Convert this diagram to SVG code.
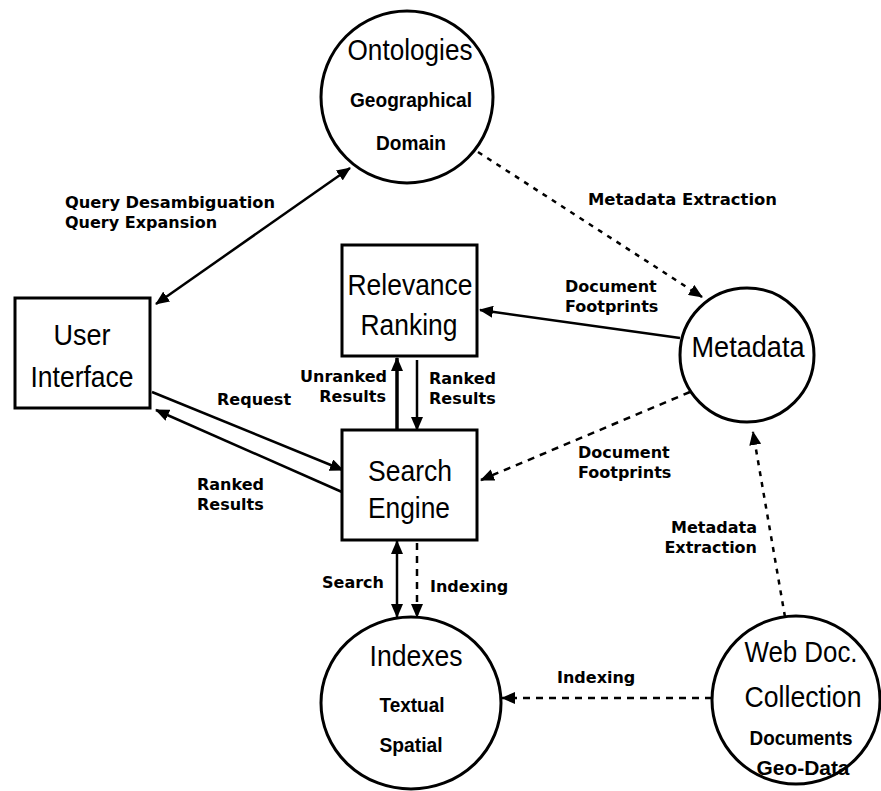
<svg xmlns="http://www.w3.org/2000/svg" width="881" height="791" viewBox="0 0 881 791">
<style>
.shape{fill:#fff;stroke:#000;stroke-width:3}
.nt{font-family:"Liberation Sans",Arial,sans-serif;font-size:29px;fill:#000;text-anchor:middle}
.ns{font-family:"Liberation Sans",Arial,sans-serif;font-size:21px;font-weight:bold;fill:#000;text-anchor:middle}
.lb{font-family:"DejaVu Sans",Verdana,sans-serif;font-size:16px;font-weight:bold;fill:#000}
.c{fill:none;stroke:#000;stroke-width:2.5}
.dot{stroke-dasharray:5 6}
.dash{stroke-dasharray:7 6}
</style>
<defs>
<marker id="ah" markerUnits="userSpaceOnUse" markerWidth="14" markerHeight="12" refX="13" refY="6" orient="auto-start-reverse">
<path d="M0,0 L14,6 L0,12 Z" fill="#000"/>
</marker>
</defs>
<g id="connectors">
<line class="c" x1="350" y1="168" x2="156" y2="304" marker-start="url(#ah)" marker-end="url(#ah)"/>
<line class="c dot" x1="478" y1="152" x2="702" y2="297" marker-end="url(#ah)"/>
<line class="c" x1="680" y1="338" x2="480" y2="310" marker-end="url(#ah)"/>
<line class="c" style="stroke-width:3.5" x1="397" y1="430" x2="397" y2="358" marker-end="url(#ah)"/>
<line class="c" x1="417" y1="360" x2="417" y2="430" marker-end="url(#ah)"/>
<line class="c" x1="152" y1="392" x2="343" y2="470" marker-end="url(#ah)"/>
<line class="c" x1="342" y1="492" x2="156" y2="410" marker-end="url(#ah)"/>
<line class="c dash" x1="690" y1="392" x2="481" y2="480" marker-end="url(#ah)"/>
<line class="c dot" x1="785" y1="617" x2="753" y2="432" marker-end="url(#ah)"/>
<line class="c" x1="397" y1="541" x2="397" y2="617" marker-start="url(#ah)" marker-end="url(#ah)"/>
<line class="c dash" x1="417" y1="543" x2="417" y2="617" marker-end="url(#ah)"/>
<line class="c dash" x1="712" y1="698" x2="502" y2="698" marker-end="url(#ah)"/>
</g>
<g id="ontologies">
<circle class="shape" cx="407" cy="97" r="86"/>
<text class="nt" x="410" y="60" textLength="125" lengthAdjust="spacingAndGlyphs">Ontologies</text>
<text class="ns" x="411" y="107" textLength="122" lengthAdjust="spacingAndGlyphs">Geographical</text>
<text class="ns" x="411" y="150" textLength="70" lengthAdjust="spacingAndGlyphs">Domain</text>
</g>
<g id="user-interface">
<rect class="shape" x="15" y="298" width="135" height="110"/>
<text class="nt" x="82" y="345" textLength="57" lengthAdjust="spacingAndGlyphs">User</text>
<text class="nt" x="82" y="387" textLength="103" lengthAdjust="spacingAndGlyphs">Interface</text>
</g>
<g id="relevance-ranking">
<rect class="shape" x="342" y="245" width="135" height="111"/>
<text class="nt" x="410" y="295" textLength="125" lengthAdjust="spacingAndGlyphs">Relevance</text>
<text class="nt" x="409" y="335" textLength="97" lengthAdjust="spacingAndGlyphs">Ranking</text>
</g>
<g id="search-engine">
<rect class="shape" x="342" y="430" width="135" height="110"/>
<text class="nt" x="410" y="481" textLength="84" lengthAdjust="spacingAndGlyphs">Search</text>
<text class="nt" x="409" y="518" textLength="82" lengthAdjust="spacingAndGlyphs">Engine</text>
</g>
<g id="metadata">
<circle class="shape" cx="747" cy="355" r="67"/>
<text class="nt" x="748" y="357" textLength="113" lengthAdjust="spacingAndGlyphs">Metadata</text>
</g>
<g id="indexes">
<ellipse class="shape" cx="411" cy="703" rx="90" ry="86"/>
<text class="nt" x="416" y="666" textLength="93" lengthAdjust="spacingAndGlyphs">Indexes</text>
<text class="ns" x="412" y="712" textLength="65" lengthAdjust="spacingAndGlyphs">Textual</text>
<text class="ns" x="411" y="752" textLength="63" lengthAdjust="spacingAndGlyphs">Spatial</text>
</g>
<g id="web-doc-collection">
<circle class="shape" cx="796" cy="700" r="84"/>
<text class="nt" x="801" y="662" textLength="113" lengthAdjust="spacingAndGlyphs">Web Doc.</text>
<text class="nt" x="803" y="707" textLength="117" lengthAdjust="spacingAndGlyphs">Collection</text>
<text class="ns" x="801" y="745" textLength="103" lengthAdjust="spacingAndGlyphs">Documents</text>
<text class="ns" x="803" y="775" textLength="93" lengthAdjust="spacingAndGlyphs">Geo-Data</text>
</g>
<g id="labels">
<text class="lb" x="65" y="208" textLength="210" lengthAdjust="spacingAndGlyphs">Query Desambiguation</text>
<text class="lb" x="65" y="228">Query Expansion</text>
<text class="lb" x="588" y="205" textLength="189" lengthAdjust="spacingAndGlyphs">Metadata Extraction</text>
<text class="lb" x="565" y="292">Document</text>
<text class="lb" x="565" y="312">Footprints</text>
<text class="lb" x="387" y="382" text-anchor="end">Unranked</text>
<text class="lb" x="386" y="402" text-anchor="end">Results</text>
<text class="lb" x="429" y="384">Ranked</text>
<text class="lb" x="429" y="404">Results</text>
<text class="lb" x="217" y="405">Request</text>
<text class="lb" x="197" y="490">Ranked</text>
<text class="lb" x="197" y="510">Results</text>
<text class="lb" x="578" y="458">Document</text>
<text class="lb" x="578" y="478">Footprints</text>
<text class="lb" x="757" y="533" text-anchor="end">Metadata</text>
<text class="lb" x="757" y="553" text-anchor="end">Extraction</text>
<text class="lb" x="322" y="588">Search</text>
<text class="lb" x="430" y="592">Indexing</text>
<text class="lb" x="557" y="683">Indexing</text>
</g>
</svg>
